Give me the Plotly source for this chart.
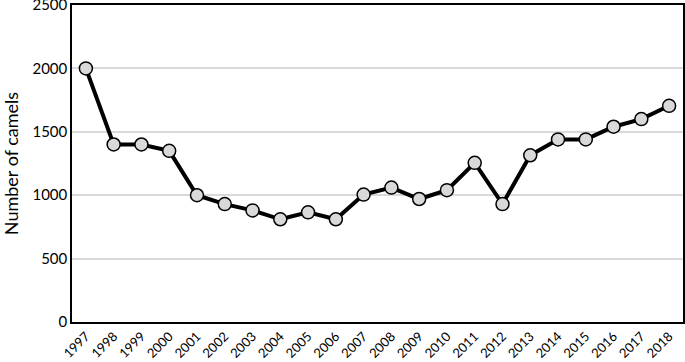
import plotly.graph_objects as go

years = [str(y) for y in range(1997, 2019)]
camels = [2000, 1400, 1400, 1350, 1000, 930, 880, 810, 865, 810, 1005,
          1060, 970, 1040, 1255, 930, 1315, 1440, 1440, 1540, 1600, 1705]
y_ticks = [0, 500, 1000, 1500, 2000, 2500]

fig = go.Figure(
    data=go.Scatter(
        x=years,
        y=camels,
        mode="lines+markers",
        line={"color": "black", "width": 4},
        marker={"size": 13, "color": "#d9d9d9",
                "line": {"color": "black", "width": 1.5}},
        cliponaxis=False,
    ),
)
fig.update_layout(
    width=685,
    height=362,
    margin={"l": 72, "r": 2, "t": 5, "b": 40, "pad": 0},
    paper_bgcolor="white",
    plot_bgcolor="white",
    showlegend=False,
    font={"family": "Lato, Open Sans, sans-serif", "size": 15, "color": "black"},
    xaxis={
        "type": "category",
        "range": [-0.5, len(years) - 0.5],
        "tickangle": -45,
        "showgrid": False,
        "showline": True,
        "linecolor": "black",
        "linewidth": 1.5,
        "mirror": True,
        "automargin": False,
        "ticklabeloverflow": "allow",
        "tickfont": {"size": 13},
    },
    yaxis={
        "range": [0, 2500],
        "tickvals": y_ticks,
        "showgrid": True,
        "gridcolor": "#d9d9d9",
        "gridwidth": 1.5,
        "showline": True,
        "linecolor": "black",
        "linewidth": 1.5,
        "mirror": True,
        "zeroline": False,
        "ticks": "",
        "automargin": False,
        "ticklabeloverflow": "allow",
        "title": {"text": "Number of camels", "standoff": 18},
    },
)
fig.write_html(
    "out.html",
    config={"displayModeBar": False},
    post_script="document.body.style.margin = '0';",
)
